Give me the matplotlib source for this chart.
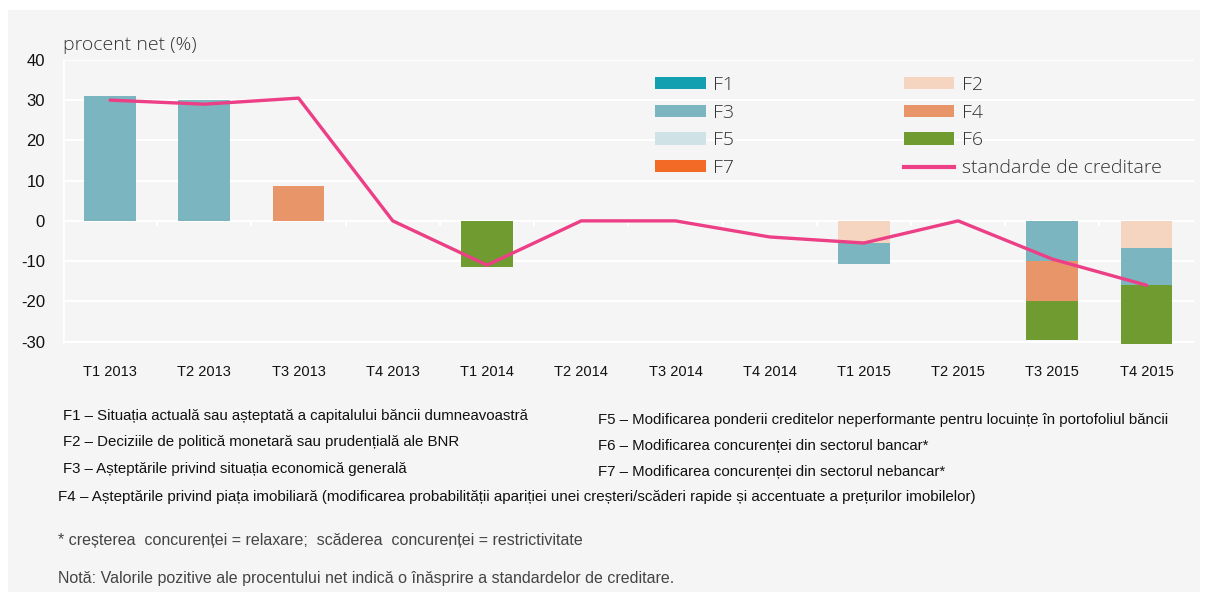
import matplotlib.pyplot as plt
import numpy as np
from matplotlib.patches import Patch, Rectangle
from matplotlib.lines import Line2D

# date
categorii = ['T1 2013', 'T2 2013', 'T3 2013', 'T4 2013', 'T1 2014', 'T2 2014',
             'T3 2014', 'T4 2014', 'T1 2015', 'T2 2015', 'T3 2015', 'T4 2015']
f1 = [0, 0, 0, 0, 0, 0, 0, 0, 0, 0, 0, 0]
f2 = [0, 0, 0, 0, 0, 0, 0, 0, -5.4, 0, 0, -6.7]
f3 = [31, 30, 0, 0, 0, 0, 0, 0, -5.4, 0, -10, -9.3]
f4 = [0, 0, 8.6, 0, 0, 0, 0, 0, 0, 0, -9.8, 0]
f5 = [0, 0, 0, 0, 0, 0, 0, 0, 0, 0, 0, 0]
f6 = [0, 0, 0, 0, -11.5, 0, 0, 0, 0, 0, -9.8, -14.5]
f7 = [0, 0, 0, 0, 0, 0, 0, 0, 0, 0, 0, 0]
standarde = [30, 29, 30.5, 0, -11, 0, 0, -4, -5.5, 0, -9.5, -16]

serii = [('F1', f1, '#12a0b0'), ('F2', f2, '#f5d5c0'), ('F3', f3, '#7bb5bf'),
         ('F4', f4, '#e8956a'), ('F5', f5, '#cfe3e6'), ('F6', f6, '#6f9b30'),
         ('F7', f7, '#f26a25')]
culoare_linie = '#ec3f86'
fundal = '#f5f5f5'

plt.rcParams['font.family'] = ['Liberation Sans', 'DejaVu Sans']
plt.rcParams['axes.unicode_minus'] = False

fig = plt.figure(figsize=(12.08, 5.99), dpi=100, facecolor='white')
fundal_panou = Rectangle((8 / 1208, 7 / 599), 1192 / 1208, 582 / 599,
                         transform=fig.transFigure, facecolor=fundal,
                         edgecolor='none', zorder=-10)
fig.patches.append(fundal_panou)

ax = fig.add_axes([63 / 1208, 0.423, 0.936, 0.477])
ax.set_facecolor(fundal)
x = np.arange(len(categorii))

# bare stivuite: pozitive in sus, negative in jos
poz = np.zeros(len(categorii))
neg = np.zeros(len(categorii))
for nume, val, col in serii:
    val = np.array(val, dtype=float)
    baza = np.where(val >= 0, poz, neg)
    ax.bar(x, val, 0.55, bottom=baza, color=col, zorder=3)
    poz += np.where(val > 0, val, 0)
    neg += np.where(val < 0, val, 0)

ax.plot(x, standarde, color=culoare_linie, lw=2.4, zorder=4, solid_capstyle='round')

ax.set_xlim(-0.5, len(categorii) - 0.5)
ax.set_ylim(-31, 40)
ax.set_yticks(np.arange(-30, 41, 10))
ax.yaxis.grid(True, color='white', lw=1.5, zorder=1)
for s in ax.spines.values():
    s.set_visible(False)
ax.axvline(-0.5, ymin=1 / 71, ymax=1, color='white', lw=2, zorder=2)
ax.vlines(x[:-1] + 0.5, -1.3, 0, color='white', lw=1.5, zorder=2)
ax.tick_params(axis='y', length=0, pad=13, labelsize=12, labelcolor='#111')
ax.set_xticks(x)
ax.set_xticklabels(categorii)
ax.tick_params(axis='x', length=0, pad=14, labelsize=10.5, labelcolor='#111')

fig.text(63 / 1208, 1 - 45 / 599, 'procent net (%)', fontsize=14, color='#333',
         family=['Open Sans', 'DejaVu Sans'], fontweight='light', va='center')

culori = dict((n, c) for n, v, c in serii)
handles = [Patch(facecolor=culori[n], label=n) for n in ['F1', 'F3', 'F5', 'F7', 'F2', 'F4', 'F6']]
handles.append(Line2D([], [], color=culoare_linie, lw=3, label='standarde de creditare'))
leg = ax.legend(handles=handles, ncol=2, loc='upper left',
                bbox_to_anchor=(655 / 1208, 1 - 76 / 599), bbox_transform=fig.transFigure,
                frameon=False, borderpad=0, borderaxespad=0,
                handlelength=2.6, handleheight=0.6, handletextpad=0.4,
                labelspacing=0.5, columnspacing=8.7,
                prop={'family': ['Open Sans', 'DejaVu Sans'], 'size': 14, 'weight': 'light'})
for t in leg.get_texts():
    t.set_color('#333')

stanga = ['F1 – Situația actuală sau așteptată a capitalului băncii dumneavoastră',
          'F2 – Deciziile de politică monetară sau prudențială ale BNR',
          'F3 – Așteptările privind situația economică generală']
dreapta = ['F5 – Modificarea ponderii creditelor neperformante pentru locuințe în portofoliul băncii',
           'F6 – Modificarea concurenței din sectorul bancar*',
           'F7 – Modificarea concurenței din sectorul nebancar*']
y_st = [416, 442, 469]
y_dr = [420, 446, 472]
for t, yy in zip(stanga, y_st):
    fig.text(63 / 1208, 1 - yy / 599, t, fontsize=10.8, color='#111', va='center')
for t, yy in zip(dreapta, y_dr):
    fig.text(598 / 1208, 1 - yy / 599, t, fontsize=10.8, color='#111', va='center')
fig.text(58 / 1208, 1 - 497 / 599,
         'F4 – Așteptările privind piața imobiliară (modificarea probabilității apariției unei creșteri/scăderi rapide și accentuate a prețurilor imobilelor)',
         fontsize=10.9, color='#111', va='center')
fig.text(58 / 1208, 1 - 541 / 599,
         '* creșterea  concurenței = relaxare;  scăderea  concurenței = restrictivitate',
         fontsize=11.5, color='#444', va='center')
fig.text(58 / 1208, 1 - 578 / 599,
         'Notă: Valorile pozitive ale procentului net indică o înăsprire a standardelor de creditare.',
         fontsize=11.5, color='#444', va='center')

fig.savefig('out.png', dpi=100, facecolor=fig.get_facecolor())
